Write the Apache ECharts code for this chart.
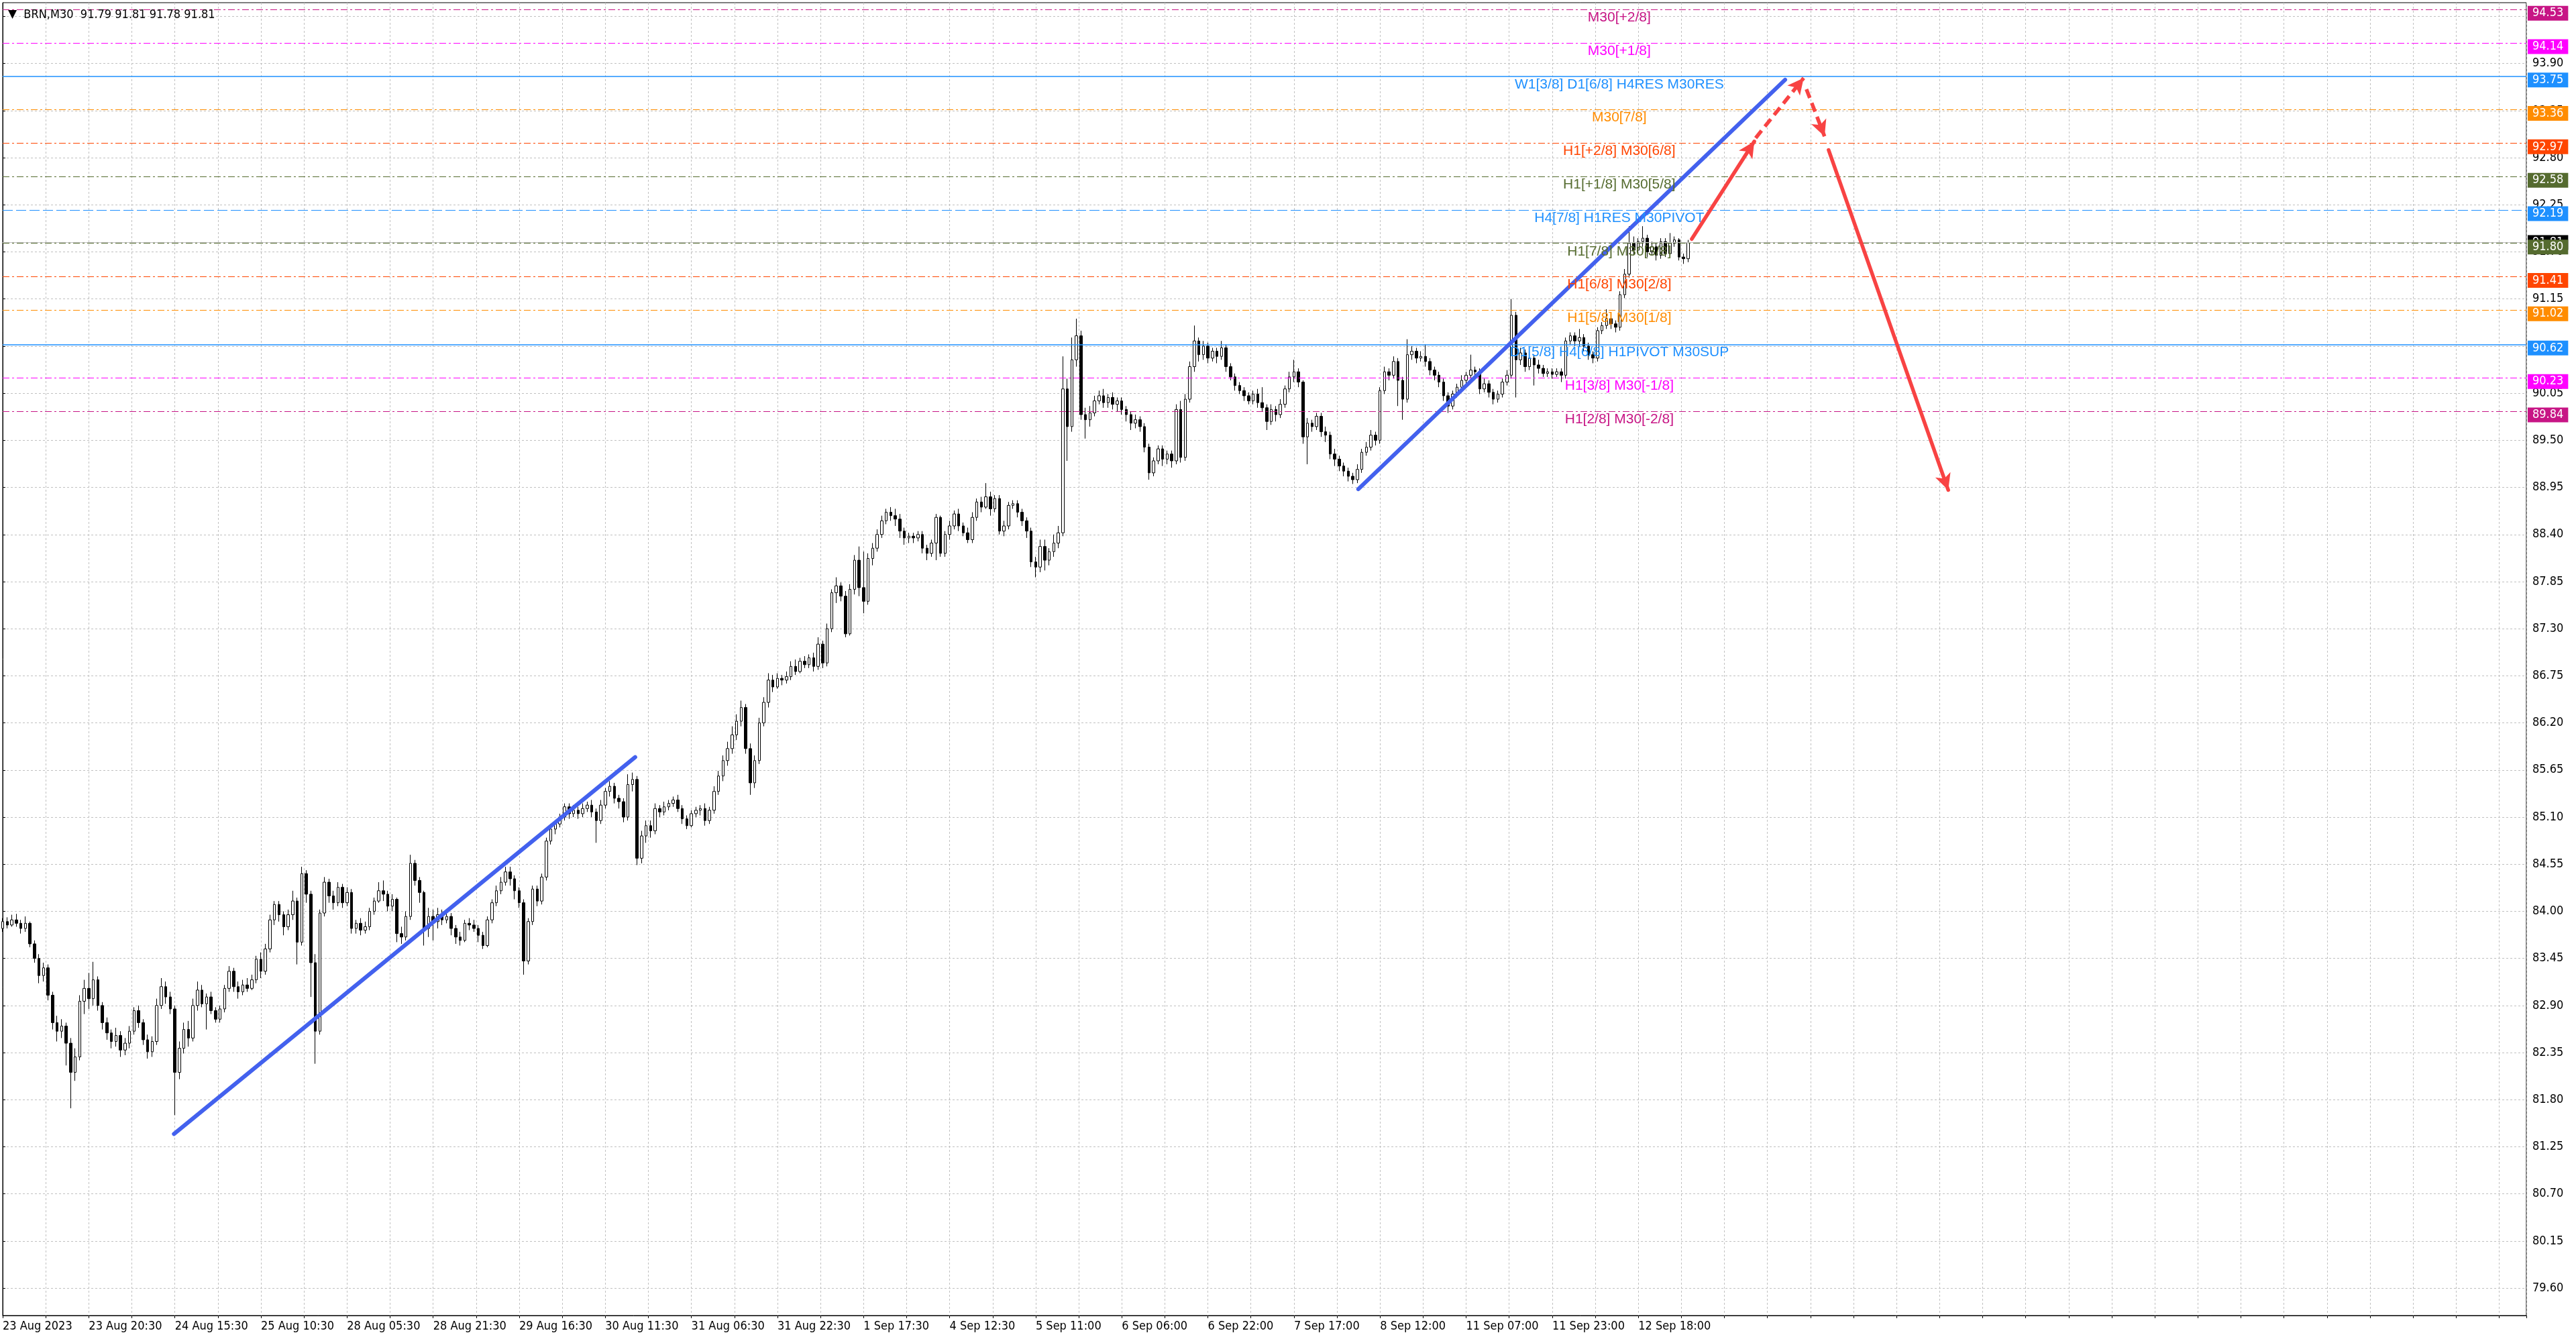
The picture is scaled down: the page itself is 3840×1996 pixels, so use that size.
<!DOCTYPE html>
<html>
<head>
<meta charset="utf-8">
<title>BRN,M30</title>
<script src="https://cdn.jsdelivr.net/npm/echarts@6.0.0/dist/echarts.min.js"></script>
<style>
  html, body { margin: 0; padding: 0; background: #fff; }
  #chart { width: 3840px; height: 1996px; }
</style>
</head>
<body>
<div id="chart"></div>
<script>
// time labels under the axis, one every 19 bars
const timeLabels = ['23 Aug 2023', '23 Aug 20:30', '24 Aug 15:30', '25 Aug 10:30', '28 Aug 05:30',
  '28 Aug 21:30', '29 Aug 16:30', '30 Aug 11:30', '31 Aug 06:30', '31 Aug 22:30', '1 Sep 17:30',
  '4 Sep 12:30', '5 Sep 11:00', '6 Sep 06:00', '6 Sep 22:00', '7 Sep 17:00', '8 Sep 12:00',
  '11 Sep 07:00', '11 Sep 23:00', '12 Sep 18:00'];

// price scale labels
const priceTicks = [79.60, 80.15, 80.70, 81.25, 81.80, 82.35, 82.90, 83.45, 84.00, 84.55, 85.10,
  85.65, 86.20, 86.75, 87.30, 87.85, 88.40, 88.95, 89.50, 90.05, 90.60, 91.15, 91.70, 92.25,
  92.80, 93.35, 93.90, 94.45];

// bars: [open, close, low, high]
const bars = [
  [83.80,83.88,83.76,83.92],[83.88,83.84,83.80,83.93],[83.84,83.90,83.82,83.96],[83.90,83.86,83.82,83.97],
  [83.86,83.80,83.74,83.90],[83.80,83.86,83.76,83.94],[83.86,83.62,83.58,83.88],[83.62,83.45,83.40,83.66],
  [83.45,83.25,83.16,83.50],[83.25,83.34,83.18,83.40],[83.34,83.02,82.96,83.38],[83.02,82.70,82.62,83.06],
  [82.70,82.60,82.48,82.78],[82.60,82.66,82.52,82.74],[82.66,82.46,82.20,82.70],[82.46,82.12,81.70,82.52],
  [82.12,82.30,82.02,82.40],[82.30,82.95,82.26,83.02],[82.95,83.10,82.80,83.20],[83.10,82.98,82.86,83.28],
  [82.98,83.20,82.90,83.41],[83.20,82.90,82.84,83.24],[82.90,82.70,82.62,82.94],[82.70,82.58,82.50,82.76],
  [82.58,82.48,82.40,82.62],[82.48,82.55,82.42,82.64],[82.55,82.38,82.30,82.60],[82.38,82.46,82.32,82.52],
  [82.46,82.60,82.40,82.66],[82.60,82.84,82.56,82.88],[82.84,82.70,82.64,82.90],[82.70,82.50,82.44,82.74],
  [82.50,82.36,82.28,82.56],[82.36,82.48,82.30,82.54],[82.48,82.90,82.44,82.98],[82.90,83.12,82.86,83.22],
  [83.12,83.00,82.92,83.18],[83.00,82.86,82.80,83.06],[82.86,82.12,81.62,82.90],[82.12,82.40,82.04,82.48],
  [82.40,82.62,82.34,82.70],[82.62,82.52,82.42,82.72],[82.52,82.90,82.48,82.98],[82.90,83.08,82.84,83.18],
  [83.08,82.92,82.88,83.14],[82.92,83.00,82.62,83.04],[83.00,82.84,82.80,83.06],[82.84,82.74,82.70,82.88],
  [82.74,82.86,82.70,82.90],[82.86,83.10,82.82,83.14],[83.10,83.30,83.06,83.36],[83.30,83.12,83.06,83.34],
  [83.12,83.06,82.98,83.18],[83.06,83.14,83.02,83.20],[83.14,83.10,83.06,83.22],[83.10,83.20,83.08,83.26],
  [83.20,83.44,83.16,83.48],[83.44,83.30,83.22,83.52],[83.30,83.56,83.26,83.62],[83.56,83.90,83.52,83.96],
  [83.90,84.08,83.84,84.12],[84.08,83.96,83.88,84.12],[83.96,83.82,83.72,84.00],[83.82,83.96,83.78,84.02],
  [83.96,84.12,83.90,84.24],[84.12,83.64,83.38,84.16],[83.64,84.44,83.60,84.52],[84.44,84.20,84.10,84.48],
  [84.20,83.40,83.00,84.24],[83.40,82.60,82.22,83.50],[82.60,83.98,82.56,84.02],[83.98,84.34,83.94,84.40],
  [84.34,84.18,84.10,84.38],[84.18,84.10,84.02,84.24],[84.10,84.28,84.06,84.34],[84.28,84.10,84.04,84.32],
  [84.10,84.22,84.06,84.28],[84.22,83.80,83.74,84.26],[83.80,83.86,83.74,83.90],[83.86,83.78,83.72,83.92],
  [83.78,83.82,83.74,83.88],[83.82,84.00,83.78,84.04],[84.00,84.12,83.96,84.16],[84.12,84.24,84.10,84.34],
  [84.24,84.20,84.12,84.36],[84.20,84.06,84.00,84.24],[84.06,84.14,84.00,84.20],[84.14,83.74,83.64,84.16],
  [83.74,83.70,83.62,83.82],[83.70,83.94,83.66,84.00],[83.94,84.56,83.90,84.66],[84.56,84.36,84.30,84.60],
  [84.36,84.22,84.10,84.40],[84.22,83.80,83.60,84.24],[83.80,83.94,83.70,84.04],[83.94,83.88,83.66,84.02],
  [83.88,83.96,83.80,84.04],[83.96,83.90,83.84,84.02],[83.90,83.94,83.86,84.00],[83.94,83.80,83.72,83.98],
  [83.80,83.70,83.62,83.84],[83.70,83.66,83.60,83.76],[83.66,83.86,83.64,83.90],[83.86,83.84,83.78,83.92],
  [83.84,83.80,83.76,83.90],[83.80,83.72,83.64,83.84],[83.72,83.60,83.56,83.76],[83.60,83.90,83.58,83.94],
  [83.90,84.10,83.86,84.14],[84.10,84.24,84.06,84.30],[84.24,84.34,84.20,84.40],[84.34,84.46,84.30,84.52],
  [84.46,84.38,84.30,84.52],[84.38,84.24,84.14,84.42],[84.24,84.10,84.04,84.28],[84.10,83.42,83.26,84.14],
  [83.42,83.88,83.38,83.92],[83.88,84.26,83.84,84.30],[84.26,84.12,84.06,84.30],[84.12,84.40,84.08,84.44],
  [84.40,84.82,84.36,84.86],[84.82,84.96,84.78,85.02],[84.96,85.02,84.90,85.06],[85.02,85.10,84.98,85.14],
  [85.10,85.22,85.06,85.26],[85.22,85.14,85.08,85.26],[85.14,85.18,85.10,85.24],[85.18,85.14,85.08,85.22],
  [85.14,85.20,85.10,85.26],[85.20,85.24,85.16,85.28],[85.24,85.16,85.10,85.30],[85.16,85.06,84.80,85.20],
  [85.06,85.24,85.02,85.30],[85.24,85.40,85.20,85.44],[85.40,85.46,85.34,85.52],[85.46,85.32,85.26,85.50],
  [85.32,85.28,85.20,85.36],[85.28,85.10,85.04,85.32],[85.10,85.48,85.06,85.60],[85.48,85.54,85.40,85.62],
  [85.54,84.62,84.54,85.58],[84.62,84.88,84.56,84.94],[84.88,85.00,84.80,85.06],[85.00,84.94,84.86,85.06],
  [84.94,85.20,84.90,85.26],[85.20,85.16,85.10,85.24],[85.16,85.22,85.12,85.28],[85.22,85.26,85.18,85.30],
  [85.26,85.30,85.22,85.34],[85.30,85.20,85.16,85.36],[85.20,85.08,85.02,85.24],[85.08,85.00,84.96,85.12],
  [85.00,85.14,84.98,85.18],[85.14,85.18,85.10,85.22],[85.18,85.20,85.12,85.24],[85.20,85.06,85.00,85.26],
  [85.06,85.18,85.02,85.22],[85.18,85.40,85.14,85.46],[85.40,85.58,85.36,85.64],[85.58,85.76,85.52,85.82],
  [85.76,85.90,85.70,85.98],[85.90,86.06,85.84,86.16],[86.06,86.22,86.00,86.30],[86.22,86.38,86.16,86.46],
  [86.38,85.90,85.84,86.42],[85.90,85.50,85.36,85.96],[85.50,85.76,85.44,85.82],[85.76,86.20,85.72,86.26],
  [86.20,86.44,86.16,86.50],[86.44,86.70,86.38,86.78],[86.70,86.62,86.56,86.76],[86.62,86.72,86.60,86.78],
  [86.72,86.70,86.64,86.76],[86.70,86.74,86.66,86.80],[86.74,86.86,86.70,86.92],[86.86,86.80,86.76,86.94],
  [86.80,86.92,86.78,86.96],[86.92,86.88,86.84,86.98],[86.88,86.96,86.84,87.00],[86.96,86.86,86.80,87.02],
  [86.86,87.12,86.82,87.20],[87.12,86.90,86.84,87.16],[86.90,87.30,86.86,87.36],[87.30,87.72,87.26,87.76],
  [87.72,87.80,87.60,87.90],[87.80,87.68,87.62,87.84],[87.68,87.24,87.20,87.74],[87.24,87.76,87.22,87.82],
  [87.76,88.10,87.70,88.16],[88.10,87.78,87.68,88.26],[87.78,87.62,87.48,88.20],[87.62,88.12,87.58,88.18],
  [88.12,88.24,88.04,88.30],[88.24,88.40,88.20,88.46],[88.40,88.56,88.36,88.62],[88.56,88.66,88.52,88.70],
  [88.66,88.62,88.56,88.72],[88.62,88.58,88.50,88.70],[88.58,88.44,88.36,88.64],[88.44,88.36,88.28,88.48],
  [88.36,88.38,88.30,88.42],[88.38,88.36,88.30,88.42],[88.36,88.40,88.32,88.44],[88.40,88.24,88.18,88.44],
  [88.24,88.18,88.10,88.28],[88.18,88.30,88.14,88.34],[88.30,88.60,88.10,88.64],[88.60,88.18,88.14,88.62],
  [88.18,88.40,88.14,88.44],[88.40,88.50,88.34,88.56],[88.50,88.64,88.46,88.68],[88.64,88.50,88.44,88.70],
  [88.50,88.42,88.38,88.54],[88.42,88.34,88.30,88.48],[88.34,88.60,88.30,88.66],[88.60,88.78,88.56,88.82],
  [88.78,88.72,88.66,88.84],[88.72,88.84,88.70,89.00],[88.84,88.70,88.62,88.90],[88.70,88.82,88.66,88.86],
  [88.82,88.44,88.40,88.86],[88.44,88.50,88.38,88.56],[88.50,88.74,88.46,88.78],[88.74,88.76,88.70,88.80],
  [88.76,88.66,88.60,88.80],[88.66,88.56,88.50,88.70],[88.56,88.44,88.36,88.60],[88.44,88.08,88.02,88.48],
  [88.08,88.02,87.90,88.14],[88.02,88.26,87.96,88.34],[88.26,88.10,87.98,88.34],[88.10,88.20,88.04,88.24],
  [88.20,88.30,88.14,88.40],[88.30,88.42,88.24,88.50],[88.42,90.10,88.38,90.48],[90.10,89.66,89.26,90.22],
  [89.66,90.44,89.60,90.70],[90.44,90.72,90.36,90.92],[90.72,89.80,89.74,90.78],[89.80,89.74,89.52,89.88],
  [89.74,89.82,89.66,89.90],[89.82,89.96,89.78,90.02],[89.96,90.02,89.92,90.08],[90.02,89.94,89.88,90.10],
  [89.94,90.00,89.88,90.04],[90.00,89.92,89.86,90.06],[89.92,89.96,89.84,90.00],[89.96,89.86,89.80,90.00],
  [89.86,89.80,89.72,89.90],[89.80,89.70,89.62,89.84],[89.70,89.74,89.64,89.80],[89.74,89.66,89.60,89.78],
  [89.66,89.42,89.36,89.70],[89.42,89.12,89.04,89.46],[89.12,89.26,89.08,89.30],[89.26,89.40,89.22,89.44],
  [89.40,89.28,89.20,89.44],[89.28,89.34,89.22,89.38],[89.34,89.26,89.18,89.38],[89.26,89.86,89.22,89.92],
  [89.86,89.30,89.24,89.96],[89.30,89.98,89.26,90.04],[89.98,90.36,89.94,90.42],[90.36,90.66,90.30,90.84],
  [90.66,90.50,90.42,90.70],[90.50,90.60,90.44,90.66],[90.60,90.46,90.40,90.64],[90.46,90.54,90.42,90.58],
  [90.54,90.48,90.40,90.58],[90.48,90.58,90.44,90.66],[90.58,90.36,90.30,90.62],[90.36,90.24,90.20,90.40],
  [90.24,90.14,90.08,90.28],[90.14,90.08,90.04,90.18],[90.08,90.02,89.96,90.12],[90.02,89.96,89.92,90.06],
  [89.96,90.04,89.92,90.08],[90.04,89.94,89.88,90.10],[89.94,89.88,89.84,90.12],[89.88,89.72,89.62,89.92],
  [89.72,89.86,89.68,89.92],[89.86,89.80,89.72,89.90],[89.80,89.92,89.76,89.98],[89.92,90.10,89.88,90.14],
  [90.10,90.24,90.06,90.30],[90.24,90.30,90.18,90.44],[90.30,90.18,90.12,90.34],[90.18,89.54,89.46,90.20],
  [89.54,89.70,89.22,89.76],[89.70,89.66,89.60,89.74],[89.66,89.78,89.62,89.82],[89.78,89.60,89.54,89.82],
  [89.60,89.56,89.48,89.66],[89.56,89.34,89.28,89.60],[89.34,89.28,89.20,89.40],[89.28,89.20,89.14,89.32],
  [89.20,89.14,89.08,89.24],[89.14,89.08,89.02,89.18],[89.08,89.04,88.99,89.12],[89.04,89.16,89.00,89.22],
  [89.16,89.36,89.12,89.40],[89.36,89.42,89.32,89.48],[89.42,89.56,89.38,89.62],[89.56,89.50,89.44,89.60],
  [89.50,90.08,89.46,90.12],[90.08,90.30,90.04,90.36],[90.30,90.26,90.20,90.34],[90.26,90.42,90.22,90.48],
  [90.42,90.20,89.90,90.46],[90.20,89.98,89.74,90.24],[89.98,90.50,89.94,90.68],[90.50,90.54,90.44,90.60],
  [90.54,90.46,90.40,90.58],[90.46,90.48,90.42,90.54],[90.48,90.42,90.36,90.62],[90.42,90.32,90.26,90.46],
  [90.32,90.26,90.20,90.36],[90.26,90.18,90.12,90.30],[90.18,90.02,89.96,90.22],[90.02,89.90,89.82,90.06],
  [89.90,90.04,89.86,90.08],[90.04,90.12,90.00,90.16],[90.12,90.20,90.08,90.26],[90.20,90.26,90.16,90.30],
  [90.26,90.32,90.20,90.50],[90.32,90.30,90.24,90.36],[90.30,90.10,90.04,90.34],[90.10,90.16,90.06,90.22],
  [90.16,90.06,90.00,90.20],[90.06,89.98,89.92,90.10],[89.98,90.04,89.94,90.08],[90.04,90.18,90.00,90.22],
  [90.18,90.26,90.14,90.32],[90.26,90.96,90.22,91.15],[90.96,90.44,90.00,91.00],[90.44,90.52,90.38,90.58],
  [90.52,90.36,90.30,90.56],[90.36,90.46,90.32,90.52],[90.46,90.38,90.14,90.50],[90.38,90.34,90.28,90.44],
  [90.34,90.28,90.24,90.38],[90.28,90.30,90.24,90.34],[90.30,90.27,90.22,90.34],[90.27,90.30,90.24,90.34],
  [90.30,90.26,90.18,90.34],[90.26,90.66,90.22,90.70],[90.66,90.72,90.62,90.76],[90.72,90.66,90.60,90.76],
  [90.66,90.70,90.60,90.80],[90.70,90.60,90.54,90.74],[90.60,90.50,90.44,90.64],[90.50,90.46,90.40,90.54],
  [90.46,90.78,90.42,90.82],[90.78,90.84,90.74,90.88],[90.84,90.92,90.80,91.03],[90.92,90.86,90.80,90.96],
  [90.86,90.82,90.76,90.90],[90.82,91.20,90.78,91.24],[91.20,91.44,91.16,91.50],[91.44,91.80,91.40,92.00],
  [91.80,91.72,91.66,91.88],[91.72,91.82,91.68,91.86],[91.82,91.86,91.76,92.00],[91.86,91.70,91.64,91.90],
  [91.70,91.76,91.66,91.82],[91.76,91.66,91.60,91.80],[91.66,91.82,91.62,91.86],[91.82,91.68,91.64,91.86],
  [91.68,91.80,91.64,91.92],[91.80,91.84,91.76,91.88],[91.84,91.64,91.60,91.86],[91.64,91.62,91.56,91.68],
  [91.62,91.81,91.58,91.84]
];

// Murrey-style levels drawn on the chart
const levelPrices = [94.53, 94.14, 93.75, 93.36, 92.97, 92.58, 92.19, 91.80, 91.41, 91.02, 90.62, 90.23, 89.84];
const levelNames = ['M30[+2/8]', 'M30[+1/8]', 'W1[3/8] D1[6/8] H4RES M30RES', 'M30[7/8]',
  'H1[+2/8] M30[6/8]', 'H1[+1/8] M30[5/8]', 'H4[7/8] H1RES M30PIVOT', 'H1[7/8] M30[3/8]',
  'H1[6/8] M30[2/8]', 'H1[5/8] M30[1/8]', 'D1[5/8] H4[6/8] H1PIVOT M30SUP', 'H1[3/8] M30[-1/8]',
  'H1[2/8] M30[-2/8]'];
const levelColors = ['#C71585', '#FF00FF', '#1E90FF', '#FF8C00', '#FF4500', '#556B2F', '#1E90FF',
  '#556B2F', '#FF4500', '#FF8C00', '#1E90FF', '#FF00FF', '#C71585'];
const levelStyles = ['dashdot', 'dashdot', 'solid', 'dashdot', 'dashdot', 'dashdot', 'dash',
  'dashdot', 'dashdot', 'dashdot', 'solid', 'dashdot', 'dashdot'];
const bidPrice = 91.81;
const header = 'BRN,M30  91.79 91.81 91.78 91.81';

// drawn objects, in [bar, price]
const trendLines = [[[37.8, 81.40], [139.6, 85.80]], [[299.2, 88.93], [393.4, 93.71]]];
const arrowsSolid = [[[372.8, 91.85], [386.6, 92.99]], [[403.0, 92.89], [429.4, 88.92]]];
const arrowsDashed = [[[386.9, 93.03], [397.5, 93.73]], [[398.1, 93.60], [402.1, 93.05]]];

const LABEL_AT = 356.8;   // bar where the level texts are anchored
const BAR_SLOTS = 557;
const UI_FONT = '"DejaVu Sans Condensed", "Liberation Sans", sans-serif';
const TXT_FONT = '"Liberation Sans", Arial, sans-serif';

const dashTypes = { solid: 'solid', dash: [15, 5], dashdot: [10, 4, 3, 4] };

const chart = echarts.init(document.getElementById('chart'));

// price box on the right edge; shift pushes it a little under its line
function priceBox(color, shift) {
  return {
    show: true,
    position: 'end',
    distance: 2,
    padding: [shift, 0, 0, 0],
    formatter: (p) => '{b|' + Number(p.value).toFixed(2) + '}',
    rich: {
      b: {
        color: '#fff',
        backgroundColor: color,
        fontSize: 18,
        fontFamily: UI_FONT,
        lineHeight: 18,
        padding: [2, 7, 2, 7]
      }
    }
  };
}

const levelLines = levelPrices.map((p, i) => ({
  yAxis: p,
  lineStyle: {
    color: levelColors[i],
    type: dashTypes[levelStyles[i]],
    width: levelStyles[i] === 'solid' ? 1.5 : 1.2
  },
  label: priceBox(levelColors[i], 11)
}));
// bid line goes first so the 91.80 box sits over it
levelLines.unshift({
  yAxis: bidPrice,
  lineStyle: { color: '#c0c0c0', type: 'solid', width: 1 },
  label: priceBox('#000', 0)
});

const levelTexts = levelPrices.map((p, i) => ({
  name: levelNames[i],
  coord: [LABEL_AT, p],
  label: { color: levelColors[i] }
}));

const segs = (list) => list.map(s => [{ coord: s[0] }, { coord: s[1] }]);

const option = {
  animation: false,
  backgroundColor: '#fff',
  title: {
    left: 7,
    top: 8,
    text: '{tri|\u25BC}  ' + header,
    textStyle: {
      fontSize: 18, fontWeight: 'normal', color: '#000', fontFamily: UI_FONT,
      rich: { tri: { fontSize: 17, color: '#000', fontFamily: '"DejaVu Sans", sans-serif' } }
    }
  },
  grid: {
    left: 4, right: 74, top: 4, bottom: 35,
    show: true, borderColor: '#000', borderWidth: 1, backgroundColor: '#fff'
  },
  xAxis: {
    type: 'value',
    min: 0,
    max: BAR_SLOTS,
    interval: 9.5,
    axisLine: { show: true, onZero: false, lineStyle: { color: '#000', width: 1 } },
    axisTick: { show: true, length: 4, lineStyle: { color: '#000' } },
    splitLine: { show: true, lineStyle: { color: '#c0c0c0', type: [3, 3], width: 1 } },
    axisLabel: {
      align: 'left',
      margin: 7,
      color: '#000',
      fontSize: 18,
      fontFamily: UI_FONT,
      formatter: (v) => {
        const k = v / 19;
        if (Math.abs(k - Math.round(k)) > 1e-6) return '';
        return timeLabels[Math.round(k)] || '';
      }
    }
  },
  yAxis: {
    type: 'value',
    position: 'right',
    min: 79.28,
    max: 94.61,
    scale: true,
    axisLine: { show: true, lineStyle: { color: '#000', width: 1 } },
    axisTick: { show: true, length: 4, lineStyle: { color: '#000' }, customValues: priceTicks },
    splitLine: { show: true, lineStyle: { color: '#c0c0c0', type: [3, 3], width: 1 } },
    axisLabel: {
      customValues: priceTicks,
      margin: 9,
      color: '#000',
      fontSize: 18,
      fontFamily: UI_FONT,
      formatter: (v) => v.toFixed(2)
    }
  },
  series: [
    {
      name: 'levels',
      type: 'line',
      data: [],
      z: 1,
      silent: true,
      markLine: {
        silent: true,
        symbol: 'none',
        data: levelLines
      }
    },
    {
      name: 'BRN',
      type: 'candlestick',
      z: 2,
      barWidth: 4,
      encode: { x: 0, y: [1, 2, 3, 4] },
      data: bars.map((b, i) => [i, b[0], b[1], b[2], b[3]]),
      itemStyle: {
        color: '#ffffff',
        color0: '#000000',
        borderColor: '#000000',
        borderColor0: '#000000',
        borderWidth: 1
      }
    },
    {
      name: 'level texts',
      type: 'line',
      data: [],
      z: 3,
      silent: true,
      markPoint: {
        silent: true,
        symbol: 'rect',
        symbolSize: 1,
        itemStyle: { color: 'rgba(0,0,0,0)' },
        label: {
          show: true,
          position: 'bottom',
          distance: 1,
          fontSize: 21,
          fontFamily: TXT_FONT,
          formatter: '{b}'
        },
        data: levelTexts
      }
    },
    {
      name: 'trend',
      type: 'line',
      data: [],
      z: 4,
      silent: true,
      markLine: {
        silent: true,
        symbol: 'none',
        label: { show: false },
        lineStyle: { color: '#4361ee', width: 6, type: 'solid', cap: 'round' },
        data: segs(trendLines)
      }
    },
    {
      name: 'forecast',
      type: 'line',
      data: [],
      z: 5,
      silent: true,
      markLine: {
        silent: true,
        symbol: ['none', 'arrow'],
        symbolSize: [18, 24],
        label: { show: false },
        lineStyle: { color: '#f84343', width: 5.5, type: 'solid', cap: 'round' },
        data: segs(arrowsSolid)
      }
    },
    {
      name: 'forecast dashed',
      type: 'line',
      data: [],
      z: 5,
      silent: true,
      markLine: {
        silent: true,
        symbol: ['none', 'arrow'],
        symbolSize: [18, 24],
        label: { show: false },
        lineStyle: { color: '#f84343', width: 5.5, type: [14, 8] },
        data: segs(arrowsDashed)
      }
    }
  ]
};

chart.setOption(option);
</script>
</body>
</html>
